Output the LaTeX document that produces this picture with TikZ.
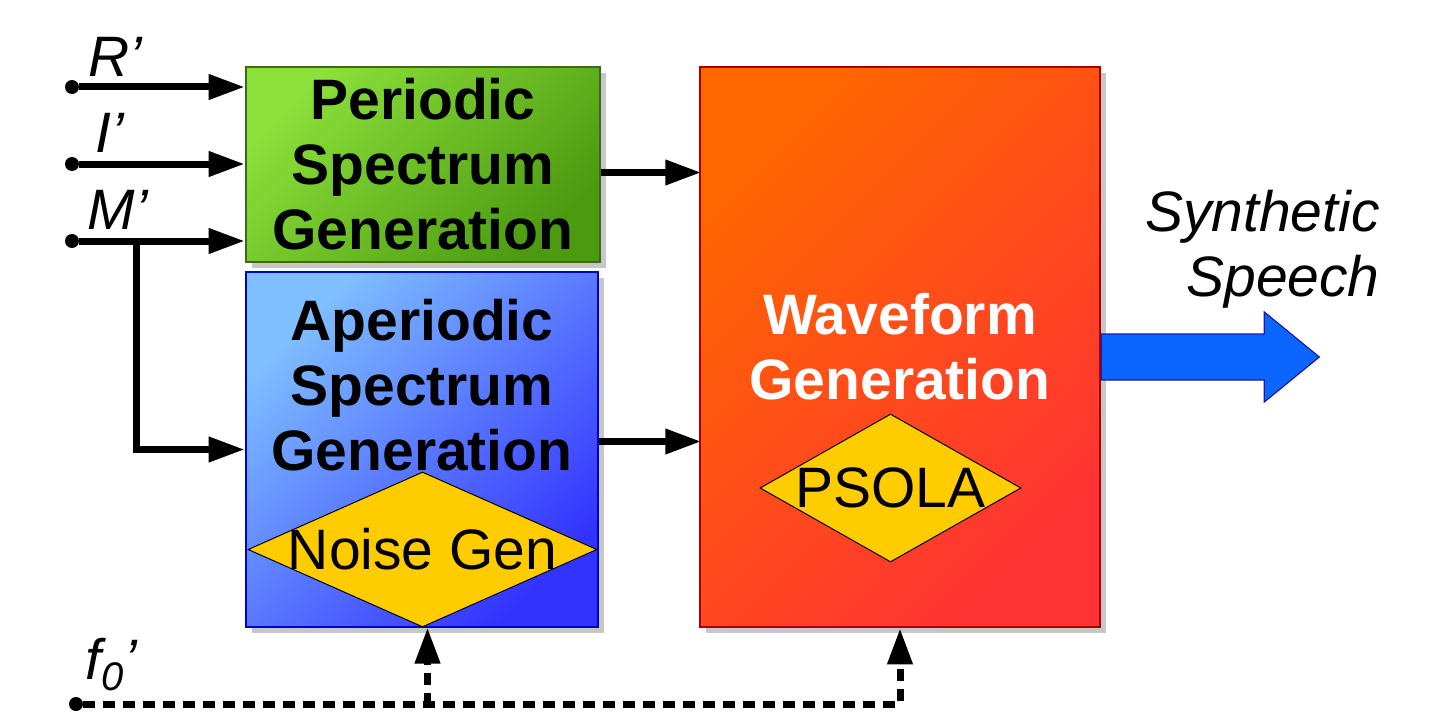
\documentclass[tikz,border=0pt]{standalone}
\usepackage{fontspec}
\setmainfont{Liberation Sans}
\usetikzlibrary{arrows.meta,shapes.geometric,shadows}
\definecolor{grnA}{HTML}{8BE03A}
\definecolor{grnB}{HTML}{4C9A10}
\definecolor{grnD}{HTML}{3A6B1C}
\definecolor{bluA}{HTML}{7FBFFF}
\definecolor{bluB}{HTML}{3333FF}
\definecolor{bluD}{HTML}{0000CC}
\definecolor{redA}{HTML}{FF6600}
\definecolor{redB}{HTML}{FF3333}
\definecolor{redD}{HTML}{AA0000}
\definecolor{gold}{HTML}{FFCC00}
\definecolor{outA}{HTML}{0A66FF}
\definecolor{outD}{HTML}{1A1AAA}
\begin{document}
\fontsize{28.5}{32.5}\selectfont
\begin{tikzpicture}[x=0.5pt,y=-0.5pt]
		\tikzset{dot/.style = {shape=circle, fill=black, inner sep=0pt, minimum size=7pt}}
		\tikzset{lbl/.style = {inner sep=0pt, anchor=base west, font=\itshape}}
		\tikzset{box/.style = {draw, line width=1.3pt, inner sep=0pt, font=\bfseries, align=center, drop shadow={shadow xshift=3pt, shadow yshift=-3pt, fill=black!22, opacity=1}}}
		\tikzset{gem/.style = {shape=diamond, draw, line width=0.5pt, fill=gold, inner sep=0pt}}
		\tikzset{edge/.style = {line width=3.5pt, -{Triangle[length=18pt,width=12pt]}}}
		\tikzset{dline/.style = {edge, dash pattern=on 6pt off 4pt}}

		\useasboundingbox (0,0) rectangle (1445,722);

		\node[box, draw=grnD, top color=grnA, bottom color=grnB, shading angle=45, minimum width=177pt, minimum height=97.5pt] (per) at (423,164.5) {Periodic\\Spectrum\\Generation};
		\node[box, draw=bluD, top color=bluA, bottom color=bluB, shading angle=45, minimum width=176pt, minimum height=177.5pt] (aper) at (422,449.5) {};
		\node[box, draw=redD, top color=redA, bottom color=redB, shading angle=45, text=white, minimum width=200pt, minimum height=280pt] (wave) at (900,347) {Waveform\\Generation};

		\node[gem, minimum width=174.5pt, minimum height=77.5pt, label=center:Noise Gen] (noise) at (422.5,549.5) {};
		\node[gem, minimum width=130.5pt, minimum height=74pt, label=center:PSOLA] (psola) at (890.5,488) {};
		\node[font=\bfseries, align=center, inner sep=0pt] (aptx) at (422,385) {Aperiodic\\Spectrum\\Generation};

		\node[dot, label={[lbl,xshift=5.5pt,yshift=2.5pt]above right:R’}] (r) at (72,87) {};
		\node[dot, label={[lbl,xshift=9pt,yshift=3pt]above right:I’}] (i) at (72,164) {};
		\node[dot, label={[lbl,xshift=5pt,yshift=3pt]above right:M’}] (m) at (72,241) {};
		\node[dot, label={[lbl,xshift=2pt,yshift=9.5pt]above right:f\textsubscript{0}’}] (f) at (76,704) {};
		\coordinate (mb) at (136,241);

		\draw[edge] (r) -- (r -| per.west);
		\draw[edge] (i) -- (i -| per.west);
		\draw[edge] (m) -- (m -| per.west);
		\draw[edge] (mb) |- (aper.west);
		\draw[edge] ([yshift=-4pt]per.east) -- ++(100,0);
		\draw[edge] ([yshift=4pt]aper.east) -- ++(102,0);

		\draw[dline] (f) -| (wave.south);
		\draw[dline] ([xshift=2.5pt]noise.south) ++(0,77) -- ++(0,-77);

		\draw[draw=outD, fill=outA, line width=0.6pt] (wave.east) ++(0,-13) -- ++(163,0) -- ++(0,-22) -- ++(55,45) -- ++(-55,45) -- ++(0,-22) -- ++(-163,0) -- cycle;
		\node[inner sep=0pt, anchor=north east, align=right, font=\itshape] (out) at (1380,190) {Synthetic\\Speech};

	\end{tikzpicture}
\end{document}
